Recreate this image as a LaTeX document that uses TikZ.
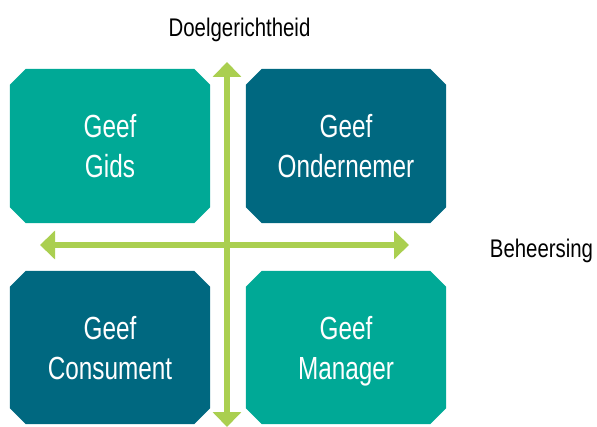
\documentclass[tikz,border=0pt]{standalone}
\usepackage{fontspec}
\setmainfont{Liberation Sans}
\newfontfamily\boxfont[FakeStretch=0.76]{Liberation Sans}
\newfontfamily\labfont[FakeStretch=0.8]{Liberation Sans}
\usetikzlibrary{arrows.meta}
\definecolor{tealA}{RGB}{0,169,150}
\definecolor{tealB}{RGB}{0,104,128}
\definecolor{axisgreen}{RGB}{170,207,80}
\newcommand{\topstrut}{\rule{0pt}{32pt}}
\newcommand{\botstrut}{\rule[-8pt]{0pt}{8pt}}
\tikzset{
  quad/.style={rectangle, minimum width=200pt, minimum height=154pt, inner sep=0pt, text=white,
    align=center, font=\boxfont\fontsize{32}{40}\selectfont},
  axis/.style={draw=axisgreen, line width=5.5pt, {Triangle[width=28pt,length=15pt]}-{Triangle[width=28pt,length=15pt]}},
  axlabel/.style={font=\labfont\fontsize{25.5}{30}\selectfont, text=black, inner sep=0pt, anchor=base}
}
\newcommand{\chamfer}[2]{%
  \fill[#2] ([xshift=16pt]#1.north west) -- ([xshift=-16pt]#1.north east) -- ([yshift=-16pt]#1.north east)
    -- ([yshift=16pt]#1.south east) -- ([xshift=-16pt]#1.south east) -- ([xshift=16pt]#1.south west)
    -- ([yshift=16pt]#1.south west) -- ([yshift=-16pt]#1.north west) -- cycle;}
\begin{document}
\begin{tikzpicture}[x=1pt,y=-1pt]
\useasboundingbox (0,0) rectangle (597,427);
\node[quad] (gids) at (110,146) {};
\node[quad] (ond) at (346,146) {};
\node[quad, minimum height=153pt] (cons) at (110,347.5) {};
\node[quad, minimum height=153pt] (man) at (346,347.5) {};
\chamfer{gids}{tealA}
\chamfer{ond}{tealB}
\chamfer{cons}{tealB}
\chamfer{man}{tealA}
\node[quad] (gidst) at (gids.center) {\topstrut Geef\\Gids\botstrut};
\node[quad] (ondt) at (ond.center) {\topstrut Geef\\Ondernemer\botstrut};
\node[quad, minimum height=153pt] (const) at (cons.center) {\topstrut Geef\\Consument\botstrut};
\node[quad, minimum height=153pt] (mant) at (man.center) {\topstrut Geef\\Manager\botstrut};
\coordinate (vtop) at (227,62);
\coordinate (vbot) at (227,427);
\coordinate (hleft) at (40,245);
\coordinate (hright) at (409,245);
\draw[axis] (vbot) -- (vtop);
\draw[axis] (hleft) -- (hright);
\node[axlabel] (doel) at (239.5,37) {Doelgerichtheid};
\node[axlabel] (beh) at (541.5,258) {Beheersing};
\end{tikzpicture}
\end{document}
